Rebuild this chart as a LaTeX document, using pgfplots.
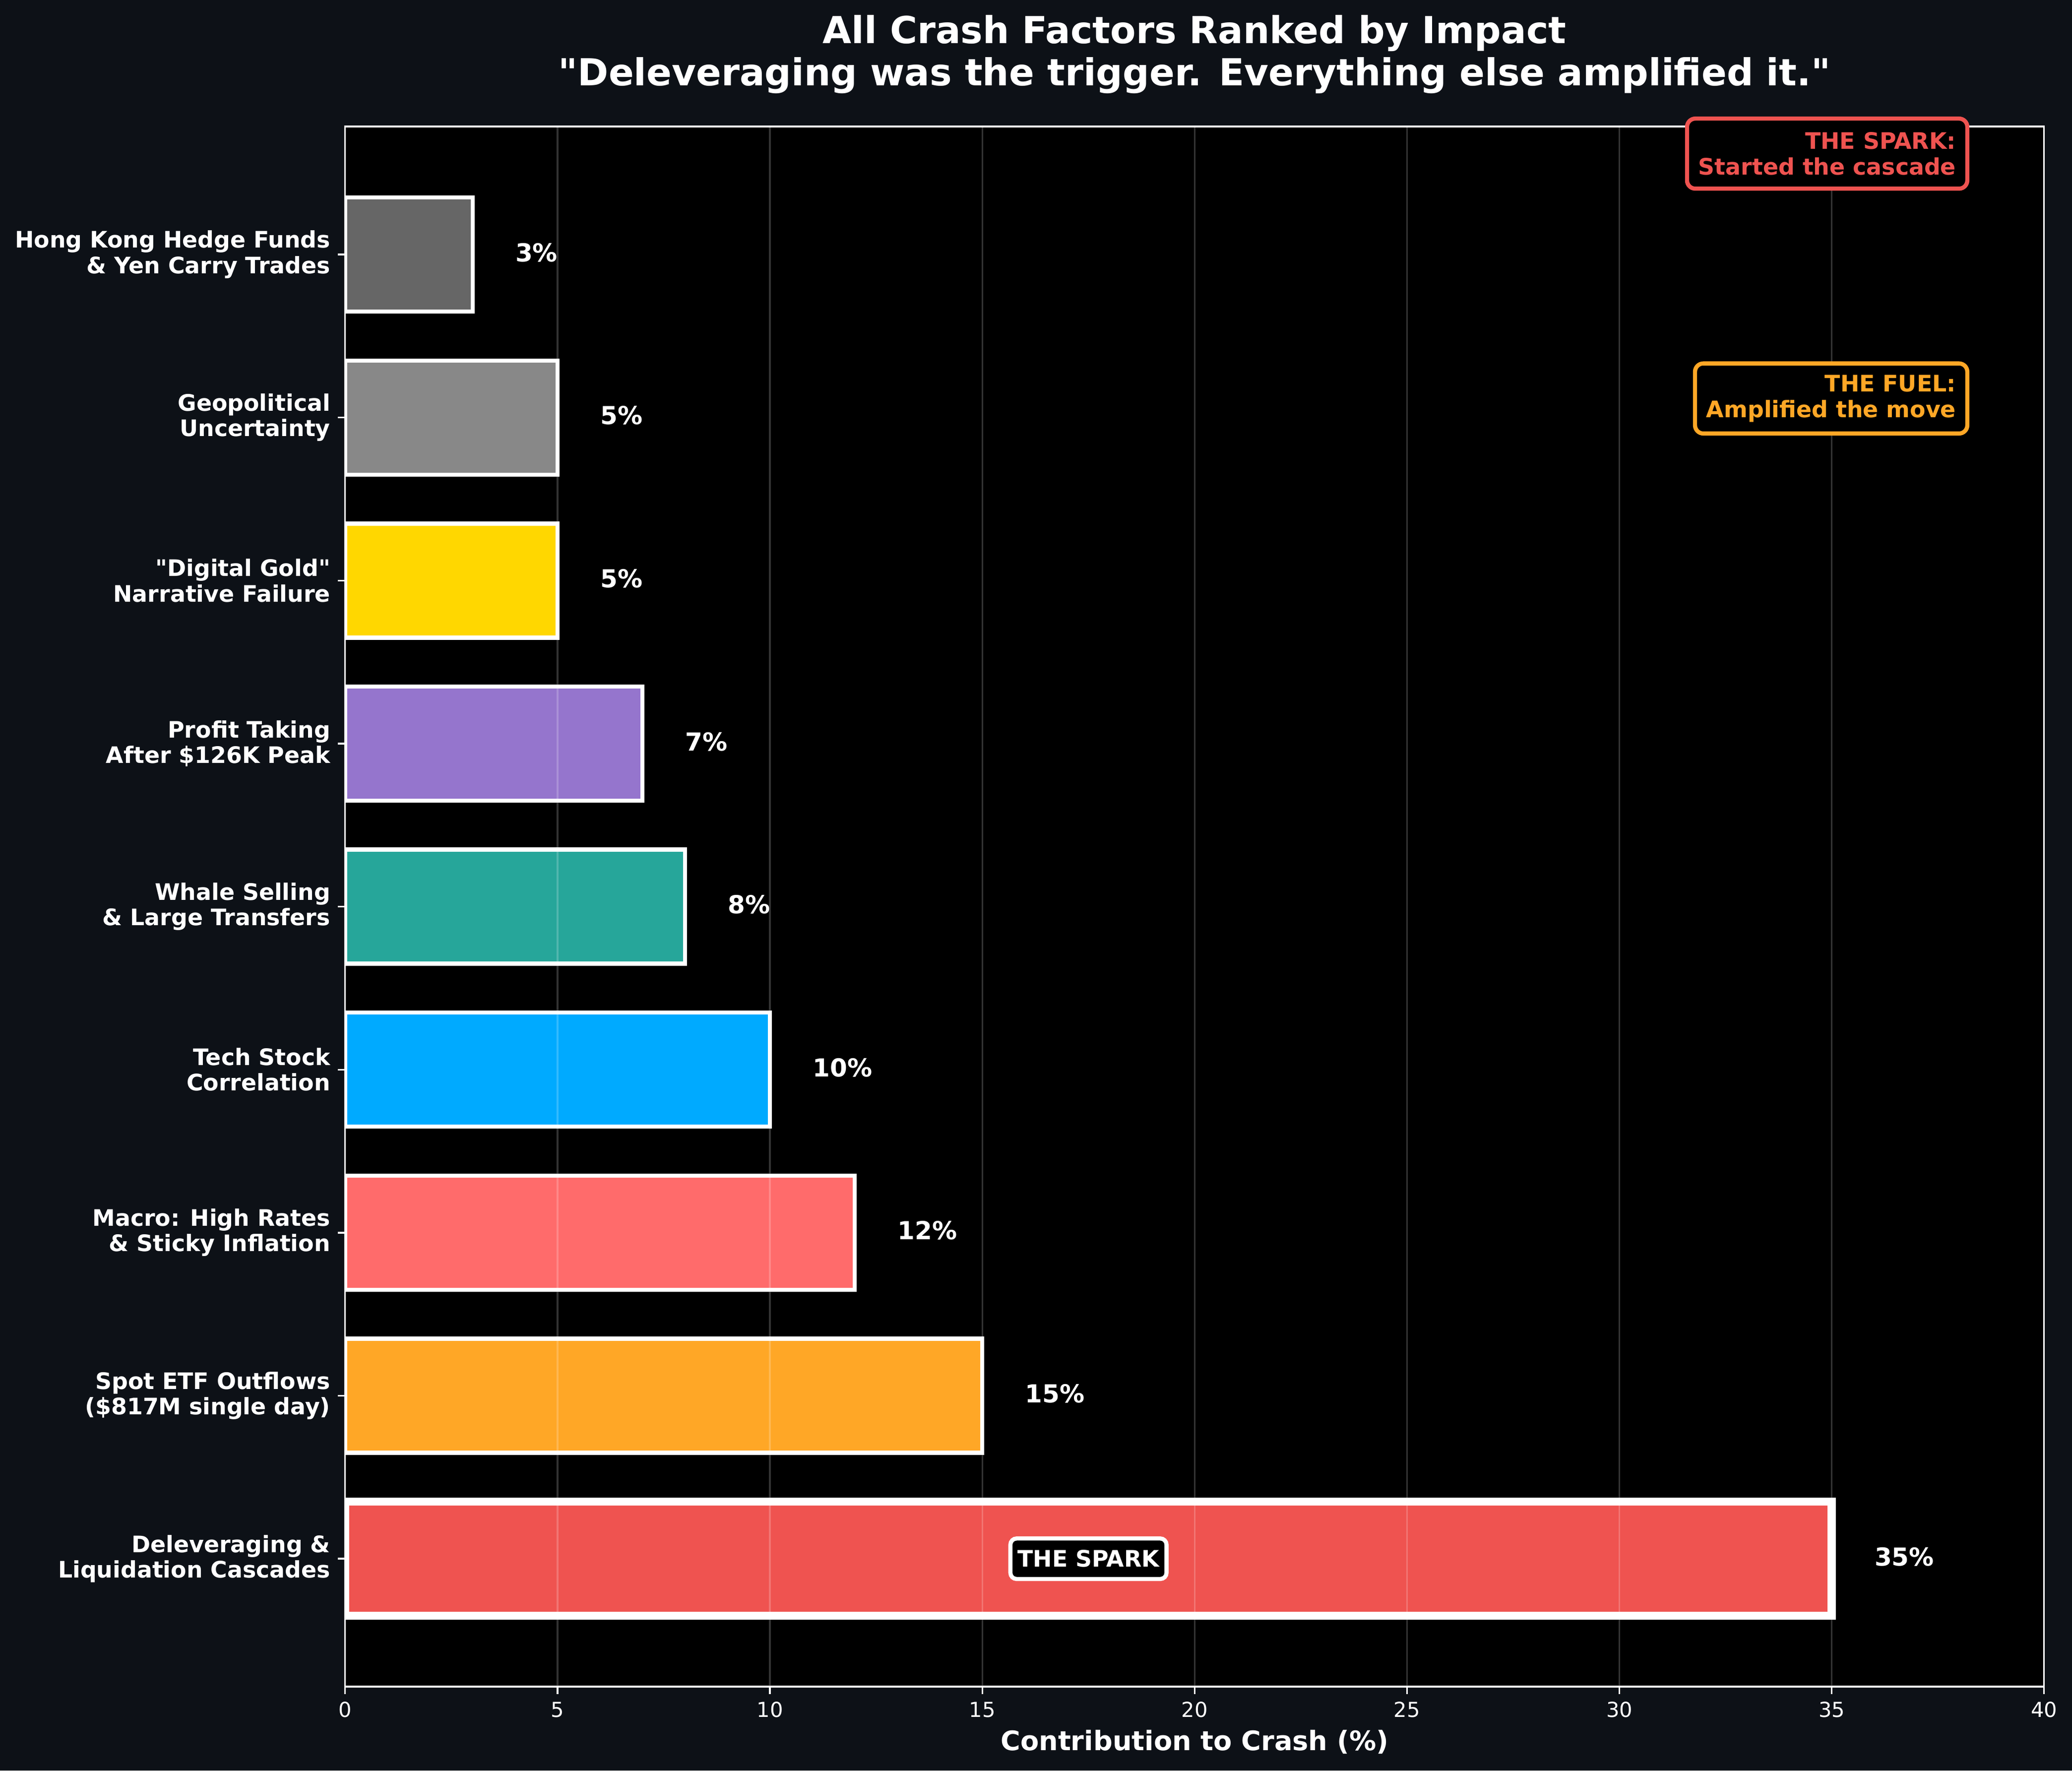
\documentclass[border=0pt]{standalone}
\usepackage{pgfplots}
\pgfplotsset{compat=1.18}
\usepackage{fontspec}
\setmainfont{DejaVu Sans}[Ligatures=TeXOff]
\definecolor{bg}{HTML}{0D1117}
\definecolor{cDel}{HTML}{EF5350}
\definecolor{cETF}{HTML}{FFA726}
\definecolor{cMacro}{HTML}{FF6B6B}
\definecolor{cTech}{HTML}{00AAFF}
\definecolor{cWhale}{HTML}{26A69A}
\definecolor{cProfit}{HTML}{9575CD}
\definecolor{cGold}{HTML}{FFD700}
\definecolor{cGeo}{HTML}{888888}
\definecolor{cHK}{HTML}{666666}
\tikzset{vlab/.style={anchor=west, inner sep=0pt, text=white, font=\bfseries\fontsize{12}{14}\selectfont, yshift=1pt}}
\begin{document}
\begin{tikzpicture}
\fill[bg, even odd rule] (0,0) rectangle (1002.5pt,856.6pt) (167pt,40.56pt) rectangle (989pt,795.36pt);
\begin{axis}[
  set layers, axis on top,
  at={(167pt,40.56pt)}, anchor=south west, scale only axis,
  width=822pt, height=754.8pt,
  xmin=0, xmax=40, ymin=-0.785, ymax=8.785,
  axis background/.style={fill=black},
  axis line style={white, line width=0.8pt},
  xtick={0,5,...,40}, ytick={0,...,8},
  yticklabels={{Deleveraging \&\\Liquidation Cascades},{Spot ETF Outflows\\(\$817M single day)},{Macro: High Rates\\\& Sticky Inflation},{Tech Stock\\Correlation},{Whale Selling\\\& Large Transfers},{Profit Taking\\After \$126K Peak},{"Digital Gold"\\Narrative Failure},{Geopolitical\\Uncertainty},{Hong Kong Hedge Funds\\\& Yen Carry Trades}},
  tick style={white, line width=0.8pt},
  major tick length=3.5pt, tick align=outside,
  xtick pos=left, ytick pos=left,
  xmajorgrids, ymajorgrids=false,
  major grid style={white, opacity=0.2, line width=0.8pt},
  /pgf/number format/assume math mode=true,
  xticklabel style={font=\fontsize{10}{12}\selectfont, text=white, inner sep=0pt, anchor=north, yshift=-3.7pt},
  yticklabel style={font=\bfseries\fontsize{11}{12.3}\selectfont, text=white, align=right, inner sep=0pt, anchor=east, xshift=-3.5pt},
  xlabel={Contribution to Crash (\%)},
  xlabel style={font=\bfseries\fontsize{13}{15}\selectfont, text=white, at={(axis description cs:0.5,-0.04075)}, anchor=base, inner sep=0pt},
  xbar, bar width=0.7, bar shift=0pt,
]
\addplot[fill=cDel, draw=white, line width=4pt] coordinates {(35,0)};
\addplot[fill=cETF, draw=white, line width=2pt] coordinates {(15,1)};
\addplot[fill=cMacro, draw=white, line width=2pt] coordinates {(12,2)};
\addplot[fill=cTech, draw=white, line width=2pt] coordinates {(10,3)};
\addplot[fill=cWhale, draw=white, line width=2pt] coordinates {(8,4)};
\addplot[fill=cProfit, draw=white, line width=2pt] coordinates {(7,5)};
\addplot[fill=cGold, draw=white, line width=2pt] coordinates {(5,6)};
\addplot[fill=cGeo, draw=white, line width=2pt] coordinates {(5,7)};
\addplot[fill=cHK, draw=white, line width=2pt] coordinates {(3,8)};
\begin{pgfonlayer}{axis foreground}
\node[vlab] at (axis cs:36,0) {35\%};
\node[vlab] at (axis cs:16,1) {15\%};
\node[vlab] at (axis cs:13,2) {12\%};
\node[vlab] at (axis cs:11,3) {10\%};
\node[vlab] at (axis cs:9,4) {8\%};
\node[vlab] at (axis cs:8,5) {7\%};
\node[vlab] at (axis cs:6,6) {5\%};
\node[vlab] at (axis cs:6,7) {5\%};
\node[vlab] at (axis cs:4,8) {3\%};
\node[draw=white, line width=2pt, fill=black, rounded corners=3pt, text=white, font=\bfseries\fontsize{11}{13}\selectfont, inner xsep=3.5pt, minimum height=19.6pt] at (axis cs:17.5,0) {THE SPARK};
\node[anchor=east, draw=cDel, line width=2pt, fill=black, rounded corners=4pt, align=right, text=cDel, font=\bfseries\fontsize{11}{12.5}\selectfont, inner xsep=5.5pt, minimum height=33.9pt] at (axis cs:38.24,8.619) {THE SPARK:\\Started the cascade};
\node[anchor=east, draw=cETF, line width=2pt, fill=black, rounded corners=4pt, align=right, text=cETF, font=\bfseries\fontsize{11}{12.5}\selectfont, inner xsep=5.5pt, minimum height=33.9pt] at (axis cs:38.24,7.117) {THE FUEL:\\Amplified the move};
\end{pgfonlayer}
\end{axis}
\node[anchor=base, text=white, font=\bfseries\fontsize{18}{21}\selectfont] at (577.9pt,835.6pt) {All Crash Factors Ranked by Impact};
\node[anchor=base, text=white, font=\bfseries\fontsize{18}{21}\selectfont] at (577.9pt,815.3pt) {"Deleveraging was the trigger. Everything else amplified it."};
\pgfresetboundingbox
\path (0,0) rectangle (1002.5pt,856.6pt);
\end{tikzpicture}
\end{document}
